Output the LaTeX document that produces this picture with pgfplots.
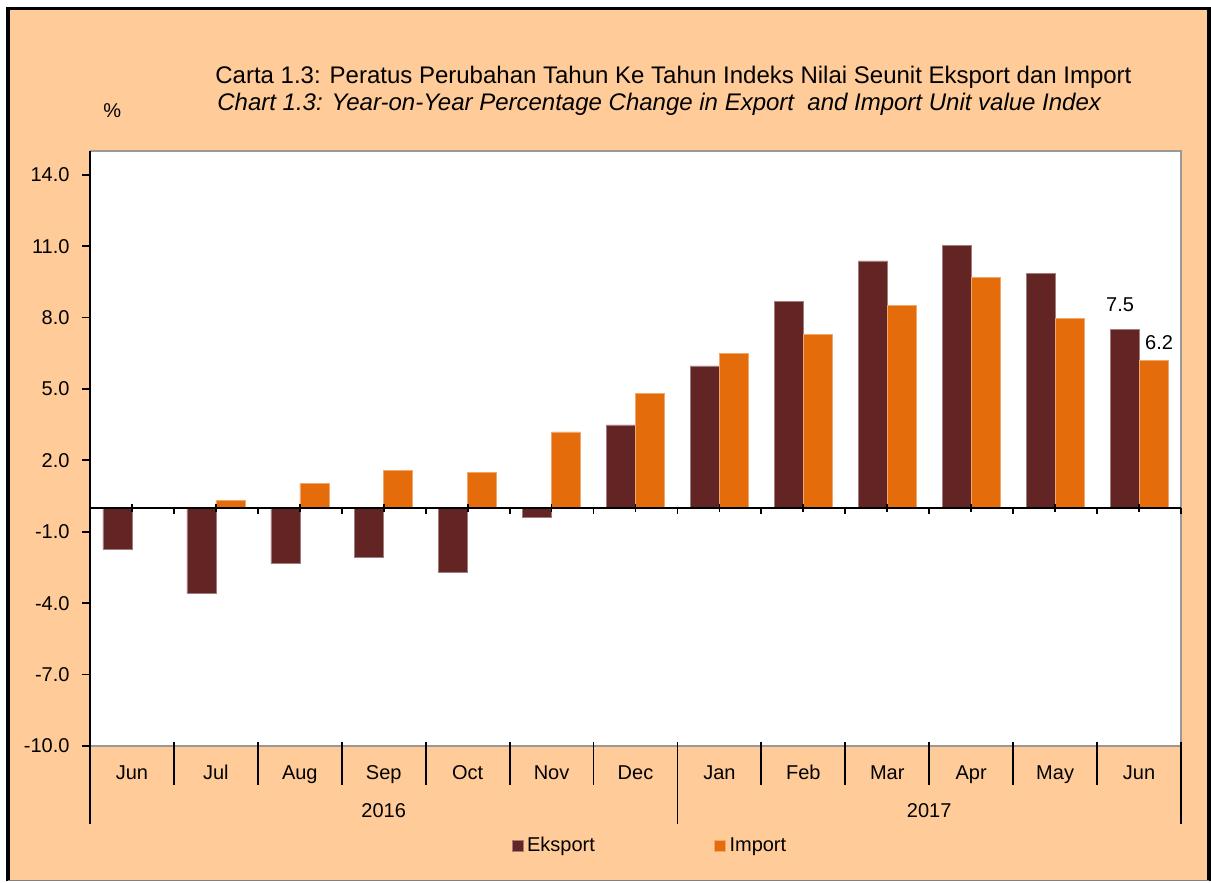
\documentclass[border=0pt]{standalone}
\usepackage{pgfplots}
\pgfplotsset{compat=1.18}
\usepackage{fontspec}
\setmainfont{Liberation Sans}
\definecolor{peach}{RGB}{255,204,153}
\definecolor{eks}{RGB}{99,37,35}
\definecolor{imp}{RGB}{228,108,10}
\begin{document}
\begin{tikzpicture}[font=\fontsize{10}{12}\selectfont]
\fill[white] (0,0) rectangle (605.5pt,441pt);
\fill[peach] (4pt,0.5pt) rectangle (604.5pt,436.75pt);
\draw[black,line width=1.8pt] (4pt,0.5pt) -- (4pt,436.75pt) -- (604.5pt,436.75pt) -- (604.5pt,0.5pt);
\draw[gray,line width=0.6pt] (4pt,0.6pt) -- (604.5pt,0.6pt);
\node[anchor=base west,inner sep=0pt,font=\fontsize{12}{14}\selectfont] at (107.5pt,399.25pt) {Carta 1.3: Peratus Perubahan Tahun Ke Tahun Indeks Nilai Seunit Eksport dan Import};
\node[anchor=base west,inner sep=0pt,font=\fontsize{12}{14}\selectfont\itshape] at (108.5pt,385.5pt) {Chart 1.3: Year-on-Year Percentage Change in Export\ \ and Import Unit value Index};
\node[anchor=base west,inner sep=0pt] at (51.5pt,382pt) {\%};
\begin{axis}[
  at={(45pt,68pt)}, anchor=south west,
  scale only axis, width=545.5pt, height=297.5pt,
  xmin=-0.5, xmax=12.5, ymin=-10, ymax=15,
  ybar=0pt, bar width=14.5pt,
  axis line style={draw=none},
  axis background/.style={fill=white},
  ytick={-10,-7,-4,-1,2,5,8,11,14},
  /pgf/number format/fixed, /pgf/number format/fixed zerofill, /pgf/number format/precision=1,
  /pgf/number format/assume math mode=true,
  every y tick label/.append style={xshift=-2.7pt},
  ytick pos=left, tick align=outside, major tick length=4pt,
  ytick style={black, line width=0.9pt},
  xtick={0,...,12},
  xticklabels={Jun,Jul,Aug,Sep,Oct,Nov,Dec,Jan,Feb,Mar,Apr,May,Jun},
  xtick style={draw=none},
  every x tick label/.append style={anchor=base, yshift=-13pt},
  clip=false,
  legend style={draw=none, fill=none, inner sep=0pt, at={(0.386,-0.168)}, anchor=west,
    legend columns=2, /tikz/every even column/.append style={column sep=57.5pt}},
  legend image code/.code={\fill[#1] (0pt,-2.75pt) rectangle (5.5pt,2.75pt);},
]
\addplot[fill=eks, draw=eks!60!white, line width=0.3pt] coordinates {
 (0,-1.72) (1,-3.58) (2,-2.33) (3,-2.06) (4,-2.69) (5,-0.4) (6,3.49)
 (7,5.97) (8,8.67) (9,10.38) (10,11.04) (11,9.86) (12,7.5)};
\addplot[fill=imp, draw=imp!60!white, line width=0.3pt] coordinates {
 (0,0.0) (1,0.32) (2,1.02) (3,1.59) (4,1.5) (5,3.2) (6,4.82)
 (7,6.5) (8,7.31) (9,8.5) (10,9.68) (11,7.98) (12,6.2)};
\legend{Eksport,Import}
\draw[gray!80,line width=0.6pt] (rel axis cs:0,0) -- (rel axis cs:1,0) -- (rel axis cs:1,1) -- (rel axis cs:0,1);
\draw[black,line width=1pt] (rel axis cs:0,0) -- (rel axis cs:0,1);
\draw[black,line width=1pt] (axis cs:-0.5,0) -- (axis cs:12.5,0);
\pgfplotsinvokeforeach{0,...,12}{\draw[black,line width=0.9pt] (axis cs:#1,0) ++(0pt,2pt) -- ++(0pt,-4pt);}
\pgfplotsinvokeforeach{0.5,1.5,...,12.5}{\draw[black,line width=0.9pt] (axis cs:#1,0) -- ++(0pt,-3pt);}
\pgfplotsinvokeforeach{-0.5,0.5,...,12.5}{\draw[black,line width=0.9pt] (axis cs:#1,-10) ++(0pt,2pt) -- ++(0pt,-21.5pt);}
\pgfplotsinvokeforeach{-0.5,6.5,12.5}{\draw[black,line width=0.9pt] (axis cs:#1,-10) ++(0pt,2pt) -- ++(0pt,-41pt);}
\node[anchor=base] at (axis cs:3,-10) [yshift=-36pt] {2016};
\node[anchor=base] at (axis cs:9.5,-10) [yshift=-36pt] {2017};
\node[anchor=base, xshift=-9.5pt, yshift=9pt] at (axis cs:12,7.5) {7.5};
\node[anchor=base, xshift=10pt, yshift=5.5pt] at (axis cs:12,6.2) {6.2};
\end{axis}
\end{tikzpicture}
\end{document}
